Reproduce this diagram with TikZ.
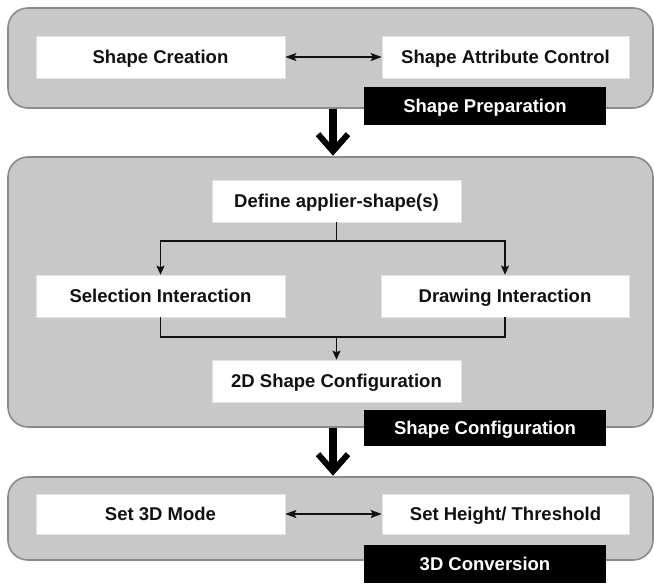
\documentclass[tikz,border=0pt]{standalone}
\usepackage{fontspec}
\setmainfont{Liberation Sans}
\usetikzlibrary{arrows.meta,calc}
\definecolor{panelfill}{HTML}{C8C8C8}
\definecolor{panelline}{HTML}{8A8A8A}
\definecolor{boxline}{HTML}{E2E2E2}
\definecolor{ink}{HTML}{111111}
\begin{document}
\begin{tikzpicture}[x=1pt,y=-1pt,
  panel/.style={draw=panelline,line width=1.6pt,fill=panelfill,rounded corners=20pt,minimum width=645pt,inner sep=0pt},
  wbox/.style={draw=boxline,line width=0.6pt,fill=white,minimum width=249pt,minimum height=42pt,inner sep=0pt,text height=13.2pt,text depth=0pt,text=ink,font=\fontsize{18.5}{22}\selectfont\bfseries},
  blabel/.style={fill=black,draw=none,minimum width=242pt,minimum height=38pt,inner sep=0pt,text height=13.2pt,text depth=0pt,text=white,font=\fontsize{18.5}{22}\selectfont\bfseries},
  arr/.style={draw=ink,line width=1.3pt,-{Stealth[length=9pt,width=8pt,inset=1.5pt]}},
  conn/.style={draw=ink,line width=1.3pt},
  dbl/.style={draw=ink,line width=1.5pt,{Stealth[length=11pt,width=8pt,inset=2pt]}-{Stealth[length=11pt,width=8pt,inset=2pt]}},
  bigline/.style={draw=black,line width=8pt},
  chevron/.style={draw=black,line width=6pt,miter limit=10,line join=miter}
]
\useasboundingbox (0,0) rectangle (654,584);
% panels
\node[panel,minimum height=100pt] (p1) at (330.5,58) {};
\node[panel,minimum height=270pt] (p2) at (330.5,292) {};
\node[panel,minimum height=83pt] (p3) at (330.5,518.5) {};
% boxes
\node[wbox] (sc) at (160.5,57) {Shape Creation};
\node[wbox,minimum width=247pt] (sac) at (505.5,57) {Shape Attribute Control};
\node[wbox] (def) at (336.5,201) {Define applier-shape(s)};
\node[wbox] (sel) at (160.5,296) {Selection Interaction};
\node[wbox,minimum width=248pt] (drw) at (505,296) {Drawing Interaction};
\node[wbox] (c2d) at (336.5,381) {2D Shape Configuration};
\node[wbox,minimum height=40pt] (s3d) at (160.5,514) {Set 3D Mode};
\node[wbox,minimum width=247pt,minimum height=40pt] (sht) at (505.5,514) {Set Height/ Threshold};
% black labels
\node[blabel] (l1) at (485,106) {Shape Preparation};
\node[blabel,minimum height=36pt] (l2) at (485,428) {Shape Configuration};
\node[blabel] (l3) at (485,564) {3D Conversion};
% connectors
\coordinate (split) at (336.5,241);
\coordinate (join) at (336.5,337);
\draw[conn] (def.south) -- (split);
\draw[arr] (split) -| (sel.north);
\draw[arr] (split) -| (drw.north);
\draw[conn] (sel.south) |- (join);
\draw[conn] (drw.south) |- (join);
\draw[arr] (join) -- (c2d.north);
\draw[dbl] (sc.east) -- (sac.west);
\draw[dbl] (s3d.east) -- (sht.west);
% big arrows between panels
\coordinate (a1s) at ([xshift=2.5pt]p1.south);
\coordinate (a1e) at ([xshift=2.5pt]p2.north);
\coordinate (a2s) at ([xshift=2.5pt]p2.south);
\coordinate (a2e) at ([xshift=2.5pt]p3.north);
\draw[bigline] (a1s) -- ([yshift=6pt]a1e);
\draw[chevron] ([shift={(-15,-22)}]a1e) -- ([shift={(0,-5)}]a1e) -- ([shift={(15,-22)}]a1e);
\draw[bigline] (a2s) -- ([yshift=6pt]a2e);
\draw[chevron] ([shift={(-15,-22)}]a2e) -- ([shift={(0,-5)}]a2e) -- ([shift={(15,-22)}]a2e);
\end{tikzpicture}
\end{document}
